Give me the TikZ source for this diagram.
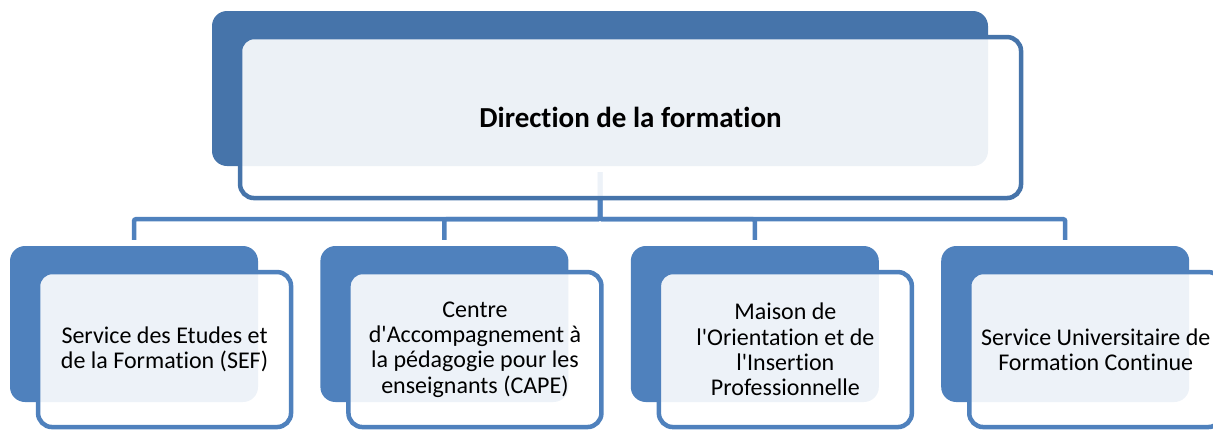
\documentclass[tikz,border=0pt]{standalone}
\usepackage{fontspec}
\setmainfont{Carlito}[Ligatures={NoCommon}]
\usetikzlibrary{positioning}
\definecolor{darkblue}{RGB}{70,116,170}
\definecolor{midblue}{RGB}{79,129,189}

\begin{document}
\begin{tikzpicture}[
        x=1pt, y=-1pt,
        every node/.style={font=\fontsize{24}{25.3}\selectfont, text=black},
        back/.style={fill=midblue, rounded corners=15pt, minimum width=248pt, minimum height=156pt, inner sep=0pt},
        front/.style={draw=midblue, line width=4.5pt, fill=white, fill opacity=0.9, text opacity=1, rounded corners=14pt, minimum width=253pt, minimum height=155pt, inner sep=0pt, align=center},
        link/.style={draw=midblue, line width=4.5pt, rounded corners=2pt, shorten <=6pt, shorten >=6pt}
    ]
    \useasboundingbox (0,0) rectangle (1213,429);

    % back panels
    \node[back, fill=darkblue, minimum width=776pt, minimum height=155pt] (dir) at (600,88.5) {};
    \node[back] (sef) at (134,324) {};
    \node[back, right=62pt of sef] (cape) {};
    \node[back, right=62pt of cape] (mosip) {};
    \node[back, right=62pt of mosip] (sufc) {};

    % links
    \draw[link] (dir.south) -- ++(0,53) -| (sef.north);
    \draw[link] (dir.south) -- ++(0,53) -| (cape.north);
    \draw[link] (dir.south) -- ++(0,53) -| (mosip.north);
    \draw[link] (dir.south) -- ++(0,53) -| (sufc.north);

    % front panels
    \node[front, draw=darkblue, minimum width=781pt, minimum height=161pt, font=\bfseries\fontsize{29}{32}\selectfont, below right=24pt and 26pt of dir.north west] (dirtext) {Direction de la formation};
    \node[front, below right=24pt and 26pt of sef.north west] (seftext) {Service des Etudes et\\de la Formation (SEF)};
    \node[front, below right=24pt and 26pt of cape.north west] (capetext) {Centre\\d\textquotesingle Accompagnement à\\la pédagogie pour les\\enseignants (CAPE)};
    \node[front, below right=24pt and 26pt of mosip.north west] (mosiptext) {Maison de\\l\textquotesingle Orientation et de\\l\textquotesingle Insertion\\Professionnelle};
    \node[front, below right=24pt and 26pt of sufc.north west] (sufctext) {Service Universitaire de\\Formation Continue};

\end{tikzpicture}
\end{document}
